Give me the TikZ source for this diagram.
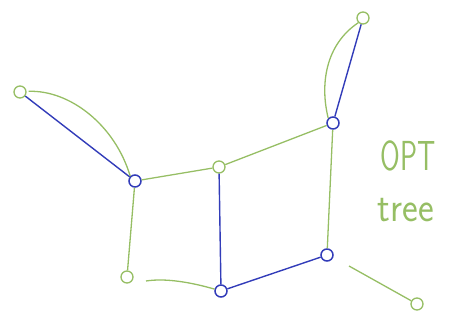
\documentclass[tikz,border=0pt]{standalone}
\usepackage{fontspec}
\begin{document}
\begin{tikzpicture}[x=1pt,y=-1pt,
  grn/.style={draw=greenc, line width=1.3pt},
  blu/.style={draw=bluec, line width=1.4pt},
  gnode/.style={circle, draw=greenc, line width=1.3pt, minimum size=12pt, inner sep=0pt},
  bnode/.style={circle, draw=bluec, line width=1.5pt, minimum size=12pt, inner sep=0pt},
  lbl/.style={text=greenc, font=\sffamily\fontsize{30}{32}\selectfont, inner sep=0pt}]
\definecolor{greenc}{RGB}{150,190,100}
\definecolor{bluec}{RGB}{50,60,185}
\useasboundingbox (0,0) rectangle (452,321);
\node[gnode] (A) at (20,92) {};
\node[bnode] (B) at (135,181) {};
\node[gnode] (C) at (219,167) {};
\node[bnode] (D) at (333,123) {};
\node[gnode] (E) at (363,18) {};
\node[gnode] (F) at (127,277) {};
\node[bnode] (G) at (221,291) {};
\node[bnode] (H) at (327,255) {};
\node[gnode] (I) at (417,304) {};
\coordinate (Fend) at (146,281);
\coordinate (Hout) at (349,266);
\draw[blu] (A) -- (B);
\draw[grn] (A.north east) ++(4,4) .. controls (70,90) and (115,125) .. (B.north west);
\draw[grn] (B) -- (C);
\draw[grn] (C) -- (D);
\draw[blu] (D) -- (E);
\draw[grn] (D.north west) .. controls (320,85) and (325,45) .. (E.south west);
\draw[grn] (B) -- (F);
\draw[blu] (C) -- (G);
\draw[grn] (G) .. controls (190,282) and (165,278) .. (Fend);
\draw[blu] (G) -- (H);
\draw[grn] (D) -- (H);
\draw[grn] (Hout) -- (I);
\node[lbl, xscale=0.95, yscale=1.4] (opt) at (408,156) {OPT};
\node[lbl, xscale=1.25, yscale=1.4] (tree) at (406,210) {tree};
\end{tikzpicture}
\end{document}
